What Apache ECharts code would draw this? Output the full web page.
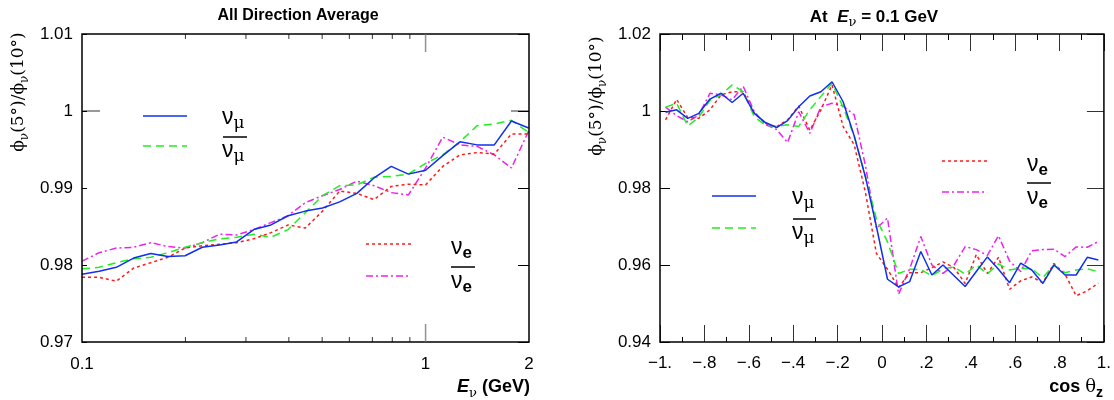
<!DOCTYPE html>
<html>
<head>
<meta charset="utf-8">
<script src="https://cdn.jsdelivr.net/npm/echarts@6/dist/echarts.min.js"></script>
<style>
html,body{margin:0;padding:0;background:#fff;}
#chart{width:1114px;height:400px;}
</style>
</head>
<body>
<div id="chart"></div>
<script>
// ---------- DATA ----------
// Left panel: all direction average vs neutrino energy (GeV)
const energyGeV = [0.1, 0.1122, 0.1259, 0.1413, 0.1585, 0.1778, 0.1995, 0.2239, 0.2512, 0.2818,
  0.3162, 0.3548, 0.3981, 0.4467, 0.5012, 0.5623, 0.6310, 0.7079, 0.7943, 0.8913,
  1.0, 1.122, 1.259, 1.413, 1.585, 1.778, 1.995];
const numuAvg = [0.9788,0.9792,0.9797,0.9809,0.9815,0.9811,0.9812,0.9823,0.9826,0.9830,0.9846,0.9852,0.9864,0.9870,0.9874,0.9882,0.9893,0.9913,0.9928,0.9918,0.9923,0.9942,0.9960,0.9956,0.9956,0.9987,0.9978];
const numubarAvg = [0.9795,0.9797,0.9803,0.9808,0.9810,0.9816,0.9823,0.9829,0.9834,0.9836,0.9840,0.9836,0.9846,0.9868,0.9890,0.9903,0.9904,0.9914,0.9915,0.9918,0.9932,0.9943,0.9960,0.9981,0.9983,0.9988,0.9972];
const nueAvg = [0.9784,0.9784,0.9779,0.9796,0.9803,0.9810,0.9822,0.9825,0.9827,0.9829,0.9834,0.9842,0.9852,0.9848,0.9870,0.9896,0.9893,0.9885,0.9902,0.9905,0.9904,0.9928,0.9943,0.9946,0.9944,0.9970,0.9970];
const nuebarAvg = [0.9805,0.9816,0.9822,0.9823,0.9829,0.9824,0.9822,0.9829,0.9840,0.9839,0.9846,0.9855,0.9864,0.9881,0.9890,0.9898,0.9909,0.9903,0.9894,0.9891,0.9926,0.9966,0.9956,0.9954,0.9943,0.9926,0.9974];
const energyMinorTicks = [0.2, 0.3, 0.4, 0.5, 0.6, 0.7, 0.8, 0.9];
const energyMajorTicks = [1];
const energyLabelValues = [0.1, 1, 2];
const energyTickLabels = ['0.1', '1', '2'];

// Right panel: at E = 0.1 GeV vs cos(zenith)
const cosZenith = [-0.975,-0.925,-0.875,-0.825,-0.775,-0.725,-0.675,-0.625,-0.575,-0.525,
  -0.475,-0.425,-0.375,-0.325,-0.275,-0.225,-0.175,-0.125,-0.075,-0.025,
  0.025,0.075,0.125,0.175,0.225,0.275,0.325,0.375,0.425,0.475,
  0.525,0.575,0.625,0.675,0.725,0.775,0.825,0.875,0.925,0.975];
const numuZen = [0.9997,1.0003,0.9981,0.9994,1.0031,1.0046,1.0022,1.0046,0.9994,0.9970,0.9957,0.9975,1.0011,1.0039,1.0050,1.0076,1.0024,0.9935,0.9830,0.9700,0.9563,0.9543,0.9557,0.9635,0.9574,0.9600,0.9572,0.9544,0.9583,0.9621,0.9589,0.9554,0.9605,0.9587,0.9552,0.9600,0.9574,0.9574,0.9620,0.9613];
const numubarZen = [1.0010,1.0020,0.9961,0.9984,1.0028,1.0042,1.0068,1.0050,0.9985,0.9963,0.9960,0.9964,0.9960,1.0003,1.0038,1.0072,1.0010,0.9935,0.9830,0.9720,0.9660,0.9578,0.9589,0.9588,0.9572,0.9590,0.9595,0.9576,0.9600,0.9577,0.9603,0.9587,0.9592,0.9590,0.9567,0.9600,0.9580,0.9587,0.9590,0.9583];
const nueZen = [0.9977,1.0030,0.9983,0.9981,1.0003,1.0042,1.0050,1.0050,0.9994,0.9968,0.9959,0.9977,1.0013,0.9950,1.0003,1.0068,0.9960,0.9912,0.9790,0.9630,0.9589,0.9541,0.9580,0.9580,0.9593,0.9608,0.9593,0.9552,0.9627,0.9578,0.9620,0.9537,0.9559,0.9569,0.9554,0.9604,0.9576,0.9520,0.9533,0.9553];
const nuebarZen = [1.0010,0.9988,0.9972,0.9990,1.0046,1.0042,1.0029,1.0064,0.9998,0.9965,0.9952,0.9918,0.9998,0.9942,1.0011,1.0020,1.0013,0.9990,0.9860,0.9695,0.9722,0.9524,0.9590,0.9674,0.9600,0.9578,0.9600,0.9648,0.9640,0.9625,0.9676,0.9610,0.9583,0.9637,0.9640,0.9641,0.9622,0.9647,0.9646,0.9661];
const cosTickLabels = ['\u22121.', '\u2212.8', '\u2212.6', '\u2212.4', '\u2212.2', '0', '.2', '.4', '.6', '.8', '1.'];

// ---------- STYLE ----------
const C_BLUE = '#1030ee', C_GREEN = '#22ee22', C_RED = '#ff1a1a', C_MAG = '#ee22ee';
const DASH_GREEN = [8, 5], DASH_RED = [3, 3], DASH_MAG = [7, 3, 2, 3];
const FONT = 'Liberation Sans, Arial, sans-serif';
const SERIF = 'DejaVu Serif, Liberation Serif, serif';
const Y_MIN_L = 0.97, Y_MAX_L = 1.01;

function pairs(xs, ys) { return xs.map((x, i) => [x, ys[i]]); }
function lineSeries(name, xs, ys, color, dash, xi, yi, z) {
  return {
    name, type: 'line', xAxisIndex: xi, yAxisIndex: yi, data: pairs(xs, ys),
    symbol: 'none', z: z, clip: true,
    lineStyle: { color, width: 1.5, type: dash || 'solid' }
  };
}
// tick marks for the log axis, drawn as thin rect symbols on the frame edges
function tickSeries(xs, yEdge, len, w, color, down) {
  return {
    type: 'scatter', xAxisIndex: 0, yAxisIndex: 0, silent: true, z: 11,
    data: xs.map(x => [x, yEdge]), symbol: 'rect', symbolSize: [w, len],
    symbolOffset: [0, down ? len / 2 : -len / 2],
    itemStyle: { color }, clip: false
  };
}

const tickStyle = { color: '#000', width: 1 };
const noLine = { show: false, onZero: false };
function hiddenLabel() { return { show: false }; }

const xAxes = [
  // 0: left panel bottom (main, log)
  { type: 'log', logBase: 10, gridIndex: 0, min: 0.1, max: 2, position: 'bottom',
    axisLine: noLine, splitLine: { show: false },
    axisTick: { show: false },
    axisLabel: { customValues: energyLabelValues, fontSize: 17, color: '#000', fontFamily: FONT, margin: 14,
      formatter: v => energyTickLabels[energyLabelValues.findIndex(e => Math.abs(e - v) < 1e-6)] } },
  // 1: right panel bottom (main)
  { type: 'value', gridIndex: 1, min: -1, max: 1, interval: 0.2, position: 'bottom',
    axisLine: noLine, splitLine: { show: false },
    axisTick: { inside: true, length: 17, lineStyle: { color: '#333', width: 1 } },
    minorTick: { show: true, splitNumber: 2, length: 5, lineStyle: { color: '#000', width: 1 } },
    axisLabel: { fontSize: 17, color: '#000', fontFamily: FONT, margin: 13,
      showMinLabel: true, showMaxLabel: true,
      formatter: v => cosTickLabels[Math.round((v + 1) / 0.2)] } },
  // 2: right panel top
  { type: 'value', gridIndex: 1, min: -1, max: 1, interval: 0.2, position: 'top',
    axisLine: noLine, splitLine: { show: false },
    axisTick: { inside: true, length: 17, lineStyle: { color: '#333', width: 1 } },
    minorTick: { show: true, splitNumber: 2, length: 6, lineStyle: { color: '#000', width: 1 } },
    axisLabel: hiddenLabel() }
];

const yAxes = [
  // 0: left panel left (main)
  { type: 'value', gridIndex: 0, min: Y_MIN_L, max: Y_MAX_L, interval: 0.01, position: 'left',
    axisLine: noLine, splitLine: { show: false },
    axisTick: { inside: true, length: 5, lineStyle: tickStyle },
    axisLabel: { fontSize: 17, color: '#000', fontFamily: FONT, margin: 9 } },
  // 1: left panel right
  { type: 'value', gridIndex: 0, min: Y_MIN_L, max: Y_MAX_L, interval: 0.01, position: 'right',
    axisLine: noLine, splitLine: { show: false },
    axisTick: { inside: true, length: 11, lineStyle: tickStyle }, axisLabel: hiddenLabel() },
  // 2: right panel left (main)
  { type: 'value', gridIndex: 1, min: 0.94, max: 1.02, interval: 0.02, position: 'left',
    axisLine: noLine, splitLine: { show: false },
    axisTick: { inside: true, length: 10, lineStyle: tickStyle },
    axisLabel: { fontSize: 17, color: '#000', fontFamily: FONT, margin: 9 } },
  // 3: right panel right
  { type: 'value', gridIndex: 1, min: 0.94, max: 1.02, interval: 0.02, position: 'right',
    axisLine: noLine, splitLine: { show: false },
    axisTick: { inside: true, length: 17, lineStyle: { color: '#333', width: 1 } }, axisLabel: hiddenLabel() }
];

const series = [
  lineSeries('nuebarAvg', energyGeV, nuebarAvg, C_MAG, DASH_MAG, 0, 0, 2),
  lineSeries('nueAvg', energyGeV, nueAvg, C_RED, DASH_RED, 0, 0, 3),
  lineSeries('numubarAvg', energyGeV, numubarAvg, C_GREEN, DASH_GREEN, 0, 0, 4),
  lineSeries('numuAvg', energyGeV, numuAvg, C_BLUE, null, 0, 0, 5),
  lineSeries('nuebarZen', cosZenith, nuebarZen, C_MAG, DASH_MAG, 1, 2, 2),
  lineSeries('nueZen', cosZenith, nueZen, C_RED, DASH_RED, 1, 2, 3),
  lineSeries('numubarZen', cosZenith, numubarZen, C_GREEN, DASH_GREEN, 1, 2, 4),
  lineSeries('numuZen', cosZenith, numuZen, C_BLUE, null, 1, 2, 5),
  // log-axis tick marks (bottom & top edges)
  tickSeries(energyMinorTicks, Y_MIN_L, 5, 1, '#000', false),
  tickSeries(energyMinorTicks, Y_MAX_L, 5, 1, '#000', true),
  tickSeries(energyMajorTicks, Y_MIN_L, 18, 1.5, '#777', false),
  tickSeries(energyMajorTicks, Y_MAX_L, 18, 1.5, '#777', true),
  // long y tick at 1 (left panel), left and right edges
  { type: 'scatter', xAxisIndex: 0, yAxisIndex: 0, silent: true, z: 11, clip: false,
    data: [[0.1, 1]], symbol: 'rect', symbolSize: [18, 1], symbolOffset: [9, 0], itemStyle: { color: '#000' } },
  { type: 'scatter', xAxisIndex: 0, yAxisIndex: 0, silent: true, z: 11, clip: false,
    data: [[2, 1]], symbol: 'rect', symbolSize: [18, 1], symbolOffset: [-9, 0], itemStyle: { color: '#000' } }
];

// ---------- GRAPHIC TEXT / LEGEND ----------
function txt(x, y, text, rich, opts) {
  return Object.assign({ type: 'text', x, y, z: 100, silent: true,
    style: Object.assign({ text, rich, fill: '#000', align: 'left', verticalAlign: 'middle' }, (opts && opts.style) || {}) },
    opts && opts.el ? opts.el : {});
}
function seg(x1, y1, x2, y2, color, dash, w) {
  return { type: 'line', z: 100, silent: true, shape: { x1, y1, x2, y2 },
    style: { stroke: color, lineWidth: w || 1.5, lineDash: dash || null } };
}

const legendRich = {
  n: { fontFamily: FONT, fontSize: 23, lineHeight: 28, verticalAlign: 'middle', fill: '#000' },
  m: { fontFamily: SERIF, fontSize: 17, lineHeight: 28, verticalAlign: 'bottom', fill: '#000' },
  e: { fontFamily: FONT, fontSize: 17, fontWeight: 'bold', lineHeight: 28, verticalAlign: 'bottom', fill: '#000' }
};
const yTitleRich = {
  p: { fontFamily: SERIF, fontSize: 17, lineHeight: 24, verticalAlign: 'middle', fill: '#000' },
  s: { fontFamily: SERIF, fontSize: 12, lineHeight: 24, verticalAlign: 'bottom', fill: '#000' }
};
const yTitle = '{p|\u03d5}{s|\u03bd}{p|(5\u00b0)/\u03d5}{s|\u03bd}{p|(10\u00b0)}';

const graphics = [
  // titles
  txt(298, 16, 'All Direction Average', null, { style: { font: 'bold 16px ' + FONT, align: 'center' } }),
  txt(874, 17, '{b|At  }{i|E}{s|\u03bd}{b| = 0.1 GeV}', {
    b: { fontFamily: FONT, fontSize: 17, fontWeight: 'bold', lineHeight: 24, verticalAlign: 'middle' },
    i: { fontFamily: FONT, fontSize: 17, fontWeight: 'bold', fontStyle: 'italic', lineHeight: 24, verticalAlign: 'middle' },
    s: { fontFamily: SERIF, fontSize: 13, lineHeight: 24, verticalAlign: 'bottom' }
  }, { style: { align: 'center' } }),
  // y titles
  txt(19, 92, yTitle, yTitleRich, { style: { align: 'center' }, el: { rotation: Math.PI / 2 } }),
  txt(597, 96, yTitle, yTitleRich, { style: { align: 'center' }, el: { rotation: Math.PI / 2 } }),
  // x titles
  txt(530, 387, '{i|E}{s|\u03bd}{b| (GeV)}', {
    b: { fontFamily: FONT, fontSize: 18, fontWeight: 'bold', lineHeight: 26, verticalAlign: 'middle' },
    i: { fontFamily: FONT, fontSize: 18, fontWeight: 'bold', fontStyle: 'italic', lineHeight: 26, verticalAlign: 'middle' },
    s: { fontFamily: SERIF, fontSize: 13, lineHeight: 26, verticalAlign: 'bottom' }
  }, { style: { align: 'right' } }),
  txt(1103, 387, '{b|cos }{t|\u03b8}{s|z}', {
    b: { fontFamily: FONT, fontSize: 18, fontWeight: 'bold', lineHeight: 26, verticalAlign: 'middle' },
    t: { fontFamily: SERIF, fontSize: 18, lineHeight: 26, verticalAlign: 'middle' },
    s: { fontFamily: FONT, fontSize: 14, fontWeight: 'bold', lineHeight: 26, verticalAlign: 'bottom' }
  }, { style: { align: 'right' } }),

  // left panel legends
  seg(143, 116, 187, 116, C_BLUE, null),
  seg(143, 146, 187, 146, C_GREEN, DASH_GREEN),
  txt(222, 118, '{n|\u03bd}{m|\u03bc}', legendRich),
  seg(223, 137, 247, 137, '#000', null, 1.5),
  txt(222, 151, '{n|\u03bd}{m|\u03bc}', legendRich),
  seg(366, 244, 411, 244, C_RED, DASH_RED),
  seg(366, 276, 411, 276, C_MAG, DASH_MAG),
  txt(451, 248, '{n|\u03bd}{e|e}', legendRich),
  seg(451, 267, 475, 267, '#000', null, 1.5),
  txt(451, 282, '{n|\u03bd}{e|e}', legendRich),

  // right panel legends
  seg(712, 196, 756, 196, C_BLUE, null),
  seg(712, 228, 756, 228, C_GREEN, DASH_GREEN),
  txt(792, 198, '{n|\u03bd}{m|\u03bc}', legendRich),
  seg(793, 219, 816, 219, '#000', null, 1.5),
  txt(792, 233, '{n|\u03bd}{m|\u03bc}', legendRich),
  seg(942, 161, 987, 161, C_RED, DASH_RED),
  seg(942, 192, 987, 192, C_MAG, DASH_MAG),
  txt(1027, 165, '{n|\u03bd}{e|e}', legendRich),
  seg(1027, 183, 1051, 183, '#000', null, 1.5),
  txt(1027, 198, '{n|\u03bd}{e|e}', legendRich)
];

const chart = echarts.init(document.getElementById('chart'), null, { renderer: 'canvas' });
chart.setOption({
  animation: false,
  backgroundColor: '#fff',
  grid: [
    { left: 82, right: 585, top: 34, bottom: 58, show: true, borderColor: '#000', borderWidth: 1.5, backgroundColor: 'transparent', z: 10 },
    { left: 660, right: 10, top: 34, bottom: 58, show: true, borderColor: '#000', borderWidth: 1.5, backgroundColor: 'transparent', z: 10 }
  ],
  xAxis: xAxes,
  yAxis: yAxes,
  series: series,
  graphic: graphics
});
</script>
</body>
</html>
